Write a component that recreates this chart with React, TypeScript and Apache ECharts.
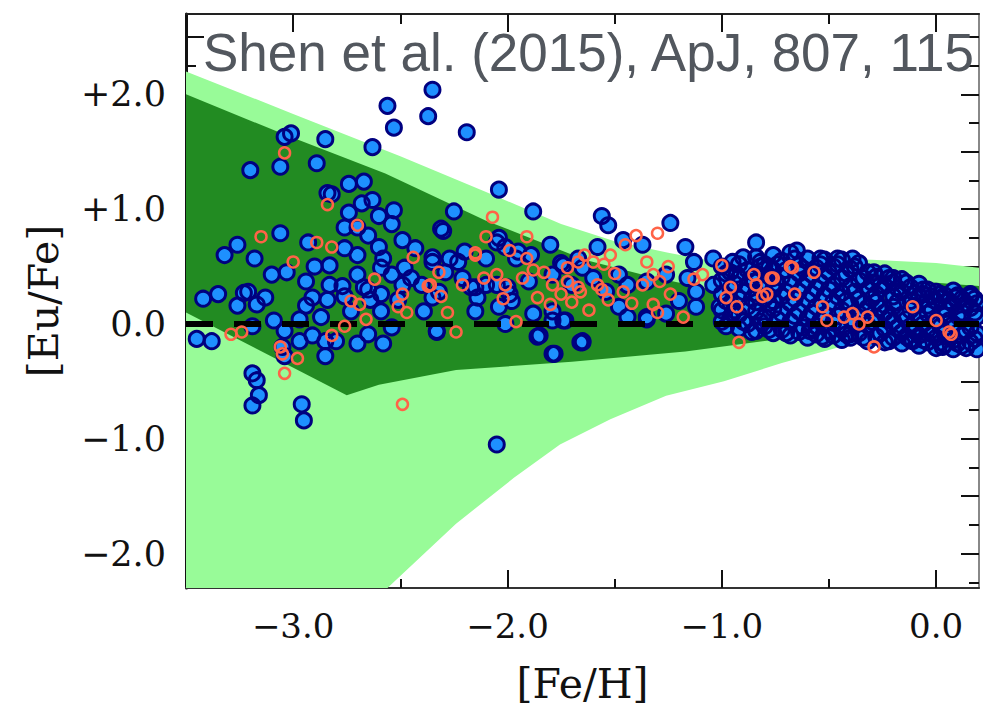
import React, { useEffect, useRef } from 'react';
import * as echarts from 'echarts';

// [Fe/H] axis
const FE_H_MIN = -3.5;
const FE_H_MAX = 0.2;
const FE_H_MAJOR = [-3, -2, -1, 0];
const FE_H_MINOR = [-2.5, -1.5, -0.5];

// [Eu/Fe] axis
const EU_FE_MIN = -2.3;
const EU_FE_MAX = 2.7;
const EU_FE_LABELS = [-2, -1, 0, 1, 2];
const EU_FE_MAJOR = [-2, -1.5, -1, -0.5, 0, 0.5, 1, 1.5, 2, 2.5];
const EU_FE_MINOR = [-2.25, -1.75, -1.25, -0.75, -0.25, 0.25, 0.75, 1.25, 1.75, 2.25];

// model spread: outer (light) and inner (dark) envelopes, traced upper edge then lower edge
const OUTER_BAND: number[][] = [
  [-3.5, 2.2], [-3.0, 1.83], [-2.5, 1.46], [-2.1, 1.15], [-1.75, 0.87], [-1.5, 0.72],
  [-1.25, 0.62], [-1.05, 0.55], [-0.75, 0.56], [-0.5, 0.57], [-0.3, 0.56], [0.0, 0.53], [0.2, 0.49],
  [0.2, -0.06], [-0.1, -0.06], [-0.36, -0.13], [-0.45, -0.2], [-0.72, -0.34], [-0.99, -0.5],
  [-1.26, -0.625], [-1.52, -0.83], [-1.755, -1.05], [-1.97, -1.34], [-2.24, -1.74], [-2.56, -2.3],
  [-3.5, -2.3],
];
const INNER_BAND: number[][] = [
  [-3.5, 2.0], [-3.04, 1.65], [-2.57, 1.31], [-2.1, 0.9], [-1.64, 0.56], [-1.35, 0.42],
  [-1.05, 0.3], [-0.8, 0.33], [-0.5, 0.38], [-0.25, 0.4], [0.0, 0.36], [0.2, 0.33],
  [0.2, -0.02], [-0.36, -0.04], [-0.54, -0.09], [-0.81, -0.15], [-1.17, -0.24], [-1.7, -0.33],
  [-2.24, -0.4], [-2.6, -0.53], [-2.75, -0.62], [-3.5, 0.1],
];

// solar reference line
const SOLAR_LINE = [[-3.5, 0], [0.2, 0]];

// observed stars, crowded metal-rich group
const DISK_STARS: number[][] = [
  [-1.0, 0.5], [-1.0, 0.38], [-1.0, 0.26], [-1.0, 0.12], [-1.0, 0.02],
  [-0.98, 0.44], [-0.98, 0.2], [-0.98, -0.02],
  [-0.96, 0.45], [-0.96, 0.31], [-0.96, 0.18], [-0.96, 0.05],
  [-0.94, 0.35], [-0.94, 0.12],
  [-0.92, 0.52], [-0.92, 0.4], [-0.92, 0.22], [-0.92, 0.08], [-0.92, -0.04],
  [-0.9, 0.58], [-0.9, 0.28], [-0.9, 0.02],
  [-0.88, 0.47], [-0.88, 0.33], [-0.88, 0.15], [-0.88, 0.0],
  [-0.86, 0.4], [-0.86, 0.22], [-0.86, -0.07],
  [-0.84, 0.58], [-0.84, 0.44], [-0.84, 0.27], [-0.84, 0.19], [-0.84, -0.06],
  [-0.82, 0.5], [-0.82, 0.31], [-0.82, 0.02],
  [-0.8, 0.52], [-0.8, 0.36], [-0.8, 0.22], [-0.8, 0.06], [-0.8, -0.02],
  [-0.78, 0.42], [-0.78, 0.18], [-0.78, -0.05],
  [-0.76, 0.6], [-0.76, 0.47], [-0.76, 0.3], [-0.76, 0.13], [-0.76, -0.08],
  [-0.74, 0.52], [-0.74, 0.35], [-0.74, 0.04],
  [-0.72, 0.55], [-0.72, 0.41], [-0.72, 0.24], [-0.72, 0.09], [-0.72, -0.05],
  [-0.7, 0.47], [-0.7, 0.28], [-0.7, -0.08],
  [-0.68, 0.62], [-0.68, 0.35], [-0.68, 0.18], [-0.68, 0.02], [-0.68, -0.1],
  [-0.66, 0.57], [-0.66, 0.22], [-0.66, 0.07],
  [-0.64, 0.51], [-0.64, 0.44], [-0.64, 0.28], [-0.64, 0.11], [-0.64, -0.07],
  [-0.62, 0.48], [-0.62, 0.33], [-0.62, -0.03],
  [-0.6, 0.57], [-0.6, 0.38], [-0.6, 0.21], [-0.6, 0.05], [-0.6, -0.12],
  [-0.58, 0.43], [-0.58, 0.26], [-0.58, 0.1],
  [-0.56, 0.49], [-0.56, 0.31], [-0.56, 0.15], [-0.56, -0.02], [-0.56, -0.09],
  [-0.54, 0.52], [-0.54, 0.36], [-0.54, 0.03],
  [-0.52, 0.56], [-0.52, 0.42], [-0.52, 0.25], [-0.52, 0.08], [-0.52, -0.13],
  [-0.5, 0.45], [-0.5, 0.3], [-0.5, -0.06],
  [-0.48, 0.5], [-0.48, 0.34], [-0.48, 0.19], [-0.48, 0.01], [-0.48, -0.1],
  [-0.46, 0.52], [-0.46, 0.24], [-0.46, 0.07],
  [-0.44, 0.56], [-0.44, 0.4], [-0.44, 0.27], [-0.44, 0.12], [-0.44, -0.05], [-0.44, -0.14],
  [-0.42, 0.44], [-0.42, 0.2], [-0.42, -0.09],
  [-0.4, 0.48], [-0.4, 0.33], [-0.4, 0.17], [-0.4, 0.04], [-0.4, -0.12],
  [-0.38, 0.5], [-0.38, 0.28], [-0.38, 0.01],
  [-0.36, 0.53], [-0.36, 0.38], [-0.36, 0.22], [-0.36, 0.09], [-0.36, -0.08],
  [-0.34, 0.4], [-0.34, 0.18], [-0.34, -0.12],
  [-0.32, 0.45], [-0.32, 0.3], [-0.32, 0.14], [-0.32, -0.01], [-0.32, -0.15],
  [-0.3, 0.36], [-0.3, 0.22], [-0.3, 0.02],
  [-0.28, 0.41], [-0.28, 0.26], [-0.28, 0.19], [-0.28, 0.06], [-0.28, -0.11],
  [-0.26, 0.34], [-0.26, 0.14], [-0.26, -0.08],
  [-0.24, 0.44], [-0.24, 0.33], [-0.24, 0.1], [-0.24, -0.04], [-0.24, -0.16],
  [-0.22, 0.4], [-0.22, 0.06], [-0.22, -0.15],
  [-0.2, 0.36], [-0.2, 0.24], [-0.2, 0.15], [-0.2, 0.02], [-0.2, -0.12],
  [-0.18, 0.31], [-0.18, 0.19], [-0.18, -0.03],
  [-0.16, 0.39], [-0.16, 0.28], [-0.16, 0.08], [-0.16, -0.07], [-0.16, -0.17],
  [-0.14, 0.36], [-0.14, 0.04], [-0.14, -0.11],
  [-0.12, 0.32], [-0.12, 0.2], [-0.12, 0.12], [-0.12, -0.02], [-0.12, -0.14],
  [-0.1, 0.27], [-0.1, 0.16], [-0.1, -0.06],
  [-0.08, 0.35], [-0.08, 0.24], [-0.08, 0.05], [-0.08, -0.1], [-0.08, -0.19],
  [-0.06, 0.3], [-0.06, 0.0], [-0.06, -0.14],
  [-0.04, 0.3], [-0.04, 0.16], [-0.04, 0.09], [-0.04, -0.05], [-0.04, -0.16],
  [-0.02, 0.24], [-0.02, 0.12], [-0.02, -0.09],
  [0.0, 0.28], [0.0, 0.2], [0.0, 0.03], [0.0, -0.12], [0.0, -0.21],
  [0.02, 0.22], [0.02, -0.02], [0.02, -0.16],
  [0.04, 0.25], [0.04, 0.13], [0.04, 0.07], [0.04, -0.08], [0.04, -0.18],
  [0.06, 0.2], [0.06, 0.03], [0.06, -0.12],
  [0.08, 0.29], [0.08, 0.17], [0.08, 0.0], [0.08, -0.14], [0.08, -0.22],
  [0.1, 0.25], [0.1, 0.07], [0.1, -0.17],
  [0.12, 0.22], [0.12, 0.1], [0.12, 0.04], [0.12, -0.1], [0.12, -0.19],
  [0.14, 0.18], [0.14, -0.06], [0.14, -0.21],
  [0.16, 0.24], [0.16, 0.14], [0.16, -0.03], [0.16, -0.16],
  [0.18, 0.22], [0.18, 0.1], [0.18, -0.13],
  [0.19, 0.18], [0.19, 0.06], [0.19, -0.08], [0.19, -0.22],
];

// observed stars, remaining sample
const FIELD_STARS: number[][] = [
  [-2.56, 1.9], [-2.35, 2.04], [-2.37, 1.81], [-2.53, 1.71], [-2.19, 1.67], [-2.63, 1.54],
  [-2.04, 1.17], [-1.88, 0.98], [-2.25, 0.98], [-1.8, 0.69], [-2.31, 0.83],
  [-3.04, 1.63], [-3.01, 1.66], [-2.85, 1.61], [-3.2, 1.34], [-3.06, 1.37], [-2.89, 1.4],
  [-2.74, 1.22], [-2.67, 1.24], [-2.84, 1.14], [-2.82, 1.13], [-2.68, 1.05], [-2.63, 1.08],
  [-2.74, 0.97], [-2.53, 0.99], [-2.6, 0.94], [-2.76, 0.84], [-2.7, 0.84], [-2.54, 0.87],
  [-2.65, 0.77], [-3.06, 0.79], [-3.26, 0.69], [-3.32, 0.6], [-3.18, 0.57], [-2.93, 0.71],
  [-2.49, 0.73], [-2.6, 0.67], [-2.76, 0.66], [-2.7, 0.6], [-2.58, 0.57], [-2.43, 0.66],
  [-2.35, 0.58], [-2.27, 0.57], [-2.2, 0.63], [-2.05, 0.71], [-2.01, 0.67], [-1.95, 0.63],
  [-1.89, 0.6], [-1.75, 0.53], [-1.67, 0.57],
  [-2.9, 0.5], [-2.83, 0.51], [-3.1, 0.43], [-3.03, 0.45], [-2.94, 0.37], [-2.83, 0.34],
  [-2.7, 0.43], [-2.59, 0.49], [-2.54, 0.43], [-2.49, 0.34], [-2.35, 0.54], [-2.29, 0.45],
  [-2.15, 0.32], [-2.05, 0.34], [-1.99, 0.26], [-3.35, 0.26], [-3.23, 0.27], [-3.13, 0.23],
  [-2.65, 0.3], [-2.59, 0.26],
  [-3.26, 0.16], [-3.21, 0.28], [-3.17, 0.17], [-3.09, 0.03], [-3.19, -0.02], [-3.38, -0.15],
  [-3.04, -0.06], [-3.05, -0.2], [-3.04, -0.28], [-2.97, -0.15], [-2.91, 0.23], [-2.94, 0.16],
  [-2.84, 0.21], [-2.87, 0.06], [-2.97, 0.04], [-2.91, -0.1], [-2.85, -0.15], [-2.8, -0.15],
  [-2.85, -0.28], [-2.77, 0.33], [-2.76, 0.24], [-2.73, 0.11], [-2.67, 0.32], [-2.64, 0.21],
  [-2.65, -0.09], [-2.7, -0.17], [-2.58, -0.17], [-2.54, -0.03], [-2.59, 0.11], [-2.51, 0.21],
  [-2.45, 0.4], [-2.48, 0.49], [-2.4, 0.34], [-2.39, 0.11], [-2.35, 0.23], [-2.32, 0.28],
  [-2.33, -0.07], [-2.3, 0.81], [-2.23, 0.54], [-2.21, 0.4], [-2.17, 0.32], [-2.14, 0.23],
  [-2.15, 0.11],
  [-3.19, -0.43], [-3.17, -0.49], [-3.16, -0.62], [-3.19, -0.71], [-2.96, -0.7], [-2.95, -0.84],
  [-3.45, -0.13], [-3.42, 0.22], [-2.05, -1.05],
  [-2.33, -0.06], [-1.85, -0.1], [-1.78, -0.26], [-1.65, -0.16], [-2.01, 0.0], [-1.79, 0.03],
  [-1.74, 0.03], [-1.35, 0.04], [-0.58, -0.04],
  [-1.56, 0.94], [-1.53, 0.86], [-1.24, 0.88], [-1.46, 0.73], [-1.37, 0.69], [-1.17, 0.67],
  [-0.84, 0.71], [-1.58, 0.67], [-2.04, 0.75], [-2.1, 0.57], [-1.96, 0.57], [-1.74, 0.51],
  [-1.65, 0.49], [-1.13, 0.54], [-1.04, 0.57], [-0.95, 0.54], [-0.82, 0.54], [-0.78, 0.49],
  [-2.1, 0.34], [-2.0, 0.32], [-1.9, 0.37], [-1.79, 0.43], [-1.7, 0.34], [-1.6, 0.4],
  [-1.54, 0.28], [-1.48, 0.43], [-1.44, 0.34], [-1.35, 0.37], [-1.26, 0.43], [-1.16, 0.4],
  [-1.12, 0.28], [-1.04, 0.34], [-0.93, 0.43], [-0.85, 0.37], [-0.76, 0.4],
  [-2.04, 0.15], [-1.98, 0.2], [-1.88, 0.09], [-1.79, 0.11], [-1.73, 0.03], [-1.86, -0.11],
  [-1.79, -0.26], [-1.66, -0.16], [-1.48, 0.15], [-1.44, 0.06], [-1.35, 0.06], [-1.26, 0.09],
  [-1.2, 0.2], [-1.12, 0.15], [-1.01, 0.15], [-0.95, 0.09], [-0.84, 0.11], [-0.76, 0.2],
  [-0.65, 0.64], [-0.54, 0.57], [-0.46, 0.57], [-0.39, 0.57], [-0.29, 0.45], [-0.2, 0.4],
  [-0.06, 0.26], [0.02, 0.26], [0.09, 0.23], [0.16, 0.26], [-1.65, -0.15], [-0.59, -0.06],
  [-0.53, -0.11], [-0.4, -0.09], [-0.11, -0.15], [0.03, -0.2],
];

// second sample, open symbols
const OPEN_STARS: number[][] = [
  [-3.04, 1.49], [-2.84, 1.04], [-2.7, 0.86], [-3.15, 0.76], [-2.89, 0.71], [-2.82, 0.67],
  [-3.0, 0.54], [-2.44, 0.58], [-2.07, 0.93], [-1.91, 0.76], [-2.1, 0.76], [-2.15, 0.6],
  [-1.99, 0.64], [-1.91, 0.57], [-2.62, 0.39], [-2.32, 0.45], [-2.21, 0.34], [-2.36, 0.34],
  [-2.31, 0.24], [-2.49, 0.26], [-2.11, 0.4], [-2.05, 0.43], [-2.01, 0.34], [-1.93, 0.4],
  [-1.83, 0.45], [-1.79, 0.34], [-1.72, 0.49], [-1.67, 0.32], [-1.67, 0.54],
  [-2.73, 0.2], [-2.69, 0.17], [-2.66, 0.04], [-2.76, -0.02], [-2.82, -0.1], [-3.29, -0.09],
  [-3.24, -0.07], [-3.06, -0.2], [-3.05, -0.26], [-2.98, -0.3], [-3.04, -0.43], [-2.51, 0.15],
  [-2.47, 0.1], [-2.37, 0.33], [-2.28, 0.1], [-2.24, -0.07], [-2.15, 0.62], [-2.49, -0.7],
  [-1.96, 0.02], [-0.92, -0.16], [-0.29, -0.2], [0.07, -0.09], [0.0, 0.03],
  [-1.4, 0.77], [-1.3, 0.79], [-1.45, 0.69], [-1.52, 0.6], [-1.64, 0.6], [-1.6, 0.54],
  [-1.72, 0.37], [-1.66, 0.28], [-1.58, 0.34], [-1.56, 0.3], [-1.46, 0.28], [-1.35, 0.54],
  [-1.32, 0.43], [-1.37, 0.34], [-1.29, 0.37], [-1.25, 0.5], [-1.24, 0.26], [-1.32, 0.17],
  [-1.3, 0.1], [-1.18, 0.06], [-1.13, 0.39], [-1.09, 0.43], [-1.0, 0.51], [-0.96, 0.32],
  [-0.98, 0.23], [-0.93, 0.15], [-0.85, 0.43], [-0.84, 0.34], [-0.76, 0.4], [-0.81, 0.24],
  [-0.68, 0.5], [-0.66, 0.26], [-0.57, 0.45], [-0.53, 0.15], [-0.51, 0.03], [-0.43, 0.06],
  [-0.39, 0.09], [-0.36, 0.0], [-0.32, 0.06], [-0.11, 0.15], [0.06, -0.07],
  [-0.67, 0.49], [-0.77, 0.4], [-0.79, 0.26],
  [-1.86, 0.23], [-1.8, 0.17], [-1.7, 0.19], [-1.62, 0.12], [-1.53, 0.21], [-1.42, 0.18],
  [-1.88, 0.47], [-2.02, 0.22], [-1.75, 0.26], [-1.5, 0.44], [-1.55, 0.52],
];

const TITLE = 'Shen et al. (2015), ApJ, 807, 115';

const SERIF = '"DejaVu Serif", "Liberation Serif", serif';

const fmtFeH = (v: number) => (v === 0 ? '0.0' : '\u2212' + Math.abs(v).toFixed(1));
const fmtEuFe = (v: number) =>
  v === 0 ? '0.0' : (v > 0 ? '+' : '\u2212') + Math.abs(v).toFixed(1);

function tickAxis(
  position: string,
  min: number,
  max: number,
  ticks: number[],
  length: number,
  line: { show: boolean; color?: string; width?: number },
) {
  return {
    type: 'value',
    position,
    min,
    max,
    splitLine: { show: false },
    axisLine: {
      show: line.show,
      onZero: false,
      lineStyle: { color: line.color || '#222', width: line.width || 2 },
    },
    axisTick: {
      show: true,
      inside: true,
      length,
      customValues: ticks,
      lineStyle: { color: '#111', width: 2 },
    },
    axisLabel: { show: false },
  };
}

function bandSeries(points: number[][], color: string, z: number) {
  return {
    type: 'custom',
    coordinateSystem: 'cartesian2d',
    silent: true,
    z,
    data: [[points[0][0], points[0][1]]],
    renderItem: (_params: any, api: any) => ({
      type: 'polygon',
      shape: { points: points.map((p) => api.coord(p)) },
      style: { fill: color },
    }),
  };
}

export default function App() {
  const ref = useRef<HTMLDivElement>(null);

  useEffect(() => {
    if (!ref.current) return;
    const chart = echarts.init(ref.current, undefined, { renderer: 'svg' });

    const bottomMain: any = tickAxis('bottom', FE_H_MIN, FE_H_MAX, FE_H_MAJOR, 18, {
      show: true,
      color: '#333',
      width: 2,
    });
    bottomMain.axisLabel = {
      show: true,
      customValues: FE_H_MAJOR,
      formatter: fmtFeH,
      fontFamily: SERIF,
      fontSize: 34,
      color: '#111',
      margin: 21,
    };
    bottomMain.name = '[Fe/H]';
    bottomMain.nameLocation = 'middle';
    bottomMain.nameGap = 75;
    bottomMain.nameTextStyle = { fontFamily: SERIF, fontSize: 41, color: '#111' };

    const leftMain: any = tickAxis('left', EU_FE_MIN, EU_FE_MAX, EU_FE_MAJOR, 18, {
      show: true,
      color: '#111',
      width: 3,
    });
    leftMain.axisLabel = {
      show: true,
      customValues: EU_FE_LABELS,
      formatter: fmtEuFe,
      fontFamily: SERIF,
      fontSize: 35,
      color: '#111',
      margin: 20,
    };
    leftMain.name = '[Eu/Fe]';
    leftMain.nameLocation = 'middle';
    leftMain.nameGap = 122;
    leftMain.nameTextStyle = { fontFamily: SERIF, fontSize: 41, color: '#111' };

    const blueStars = DISK_STARS.concat(FIELD_STARS);

    const option: any = {
      animation: false,
      backgroundColor: '#ffffff',
      title: {
        text: TITLE,
        left: 203,
        top: 26,
        padding: 0,
        textStyle: {
          fontFamily: '"Liberation Sans", Arial, sans-serif',
          fontSize: 53,
          fontWeight: 'normal',
          color: '#52575e',
        },
      },
      grid: { left: 186, top: 14, width: 793, height: 584, containLabel: false },
      xAxis: [
        bottomMain,
        tickAxis('bottom', FE_H_MIN, FE_H_MAX, FE_H_MINOR, 9, { show: false }),
        tickAxis('top', FE_H_MIN, FE_H_MAX, FE_H_MAJOR, 18, { show: true, color: '#222', width: 2 }),
        tickAxis('top', FE_H_MIN, FE_H_MAX, FE_H_MINOR, 10, { show: false }),
      ],
      yAxis: [
        leftMain,
        tickAxis('left', EU_FE_MIN, EU_FE_MAX, EU_FE_MINOR, 10, { show: false }),
        tickAxis('right', EU_FE_MIN, EU_FE_MAX, EU_FE_MAJOR, 18, { show: true, color: '#888', width: 2 }),
        tickAxis('right', EU_FE_MIN, EU_FE_MAX, EU_FE_MINOR, 10, { show: false }),
      ],
      series: [
        bandSeries(OUTER_BAND, '#98FB98', 1),
        bandSeries(INNER_BAND, '#228B22', 1),
        // filled symbols first, outlines over all of them
        {
          type: 'scatter',
          silent: true,
          z: 3,
          symbol: 'circle',
          symbolSize: 13,
          itemStyle: { color: '#1E90FF', borderWidth: 0, opacity: 1 },
          data: blueStars,
        },
        {
          type: 'scatter',
          silent: true,
          z: 3,
          symbol: 'circle',
          symbolSize: 15,
          itemStyle: { color: 'rgba(0,0,0,0)', borderColor: '#000080', borderWidth: 3, opacity: 1 },
          data: blueStars,
        },
        {
          type: 'line',
          silent: true,
          z: 4,
          symbol: 'none',
          data: SOLAR_LINE,
          lineStyle: { color: '#000', width: 6, type: [27, 21] },
        },
        {
          type: 'scatter',
          silent: true,
          z: 5,
          symbol: 'circle',
          symbolSize: 11,
          itemStyle: { color: 'rgba(0,0,0,0)', borderColor: '#FF6347', borderWidth: 2.5, opacity: 1 },
          data: OPEN_STARS,
        },
      ],
    };

    chart.setOption(option);
    return () => chart.dispose();
  }, []);

  return (
    <div
      ref={ref}
      style={{ position: 'fixed', left: 0, top: 0, width: 983, height: 709, background: '#fff' }}
    />
  );
}
